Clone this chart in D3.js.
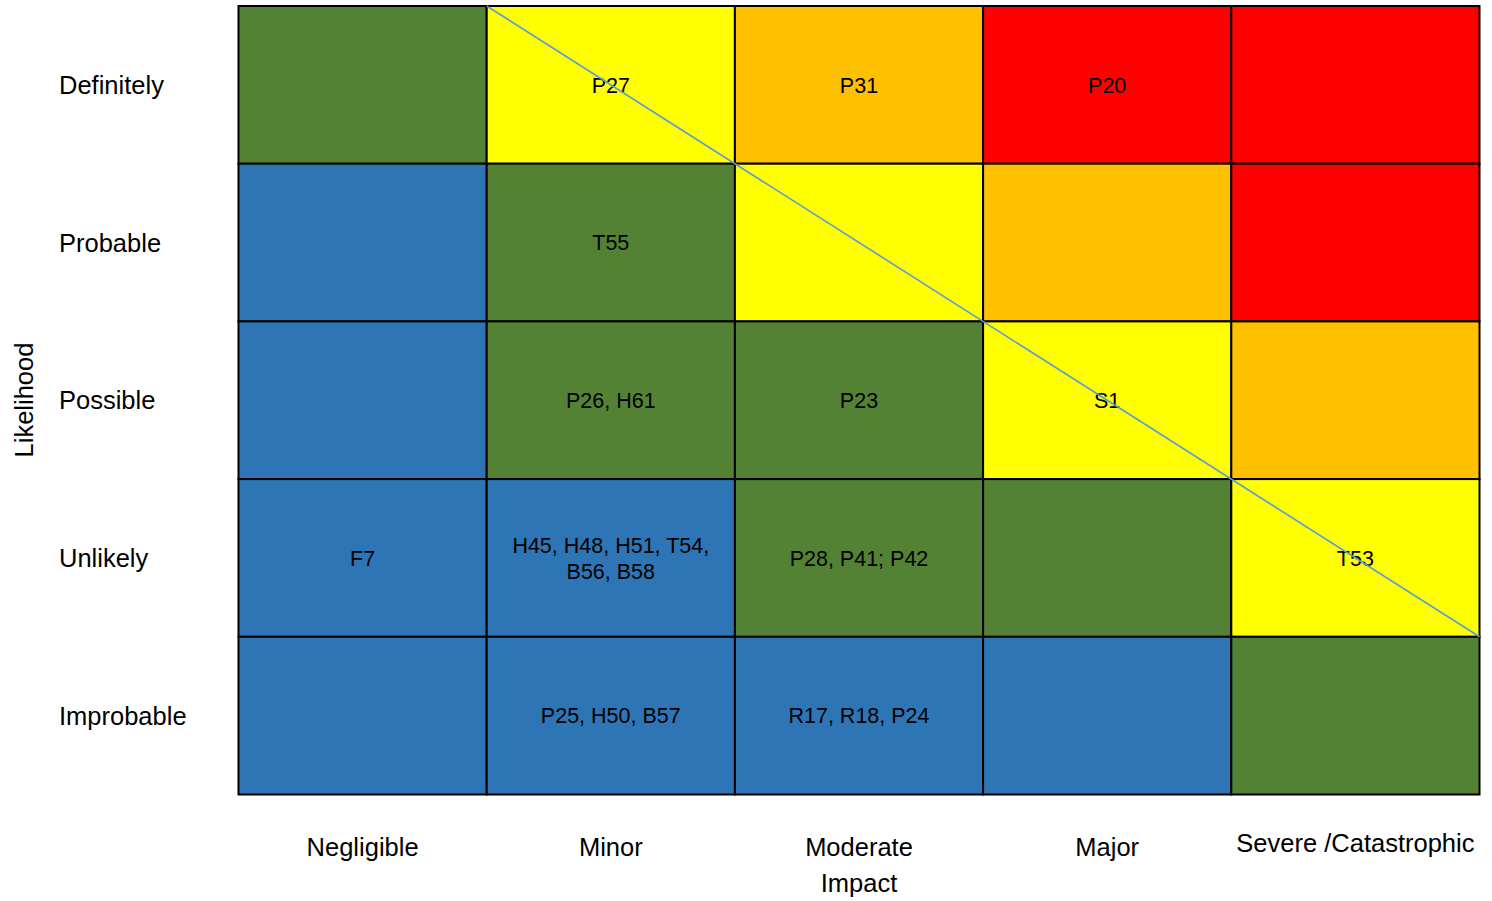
<!DOCTYPE html>
<html>
<head>
<meta charset="utf-8">
<script src="https://cdn.jsdelivr.net/npm/d3@7"></script>
<style>
  html, body { margin: 0; padding: 0; background: #fff; }
  svg { display: block; font-family: "Liberation Sans", Arial, sans-serif; }
</style>
</head>
<body>
<svg id="chart" width="1492" height="901"></svg>
<script>
// Impact categories (columns) and likelihood categories (rows, top to bottom)
const impacts = ["Negligible", "Minor", "Moderate", "Major", "Severe /Catastrophic"];
const likelihoods = ["Definitely", "Probable", "Possible", "Unlikely", "Improbable"];

// Risk level per cell: 1 = low ... 5 = extreme (rows follow likelihoods)
const riskDefinitely = [2, 3, 4, 5, 5];
const riskProbable   = [1, 2, 3, 4, 5];
const riskPossible   = [1, 2, 2, 3, 4];
const riskUnlikely   = [1, 1, 2, 2, 3];
const riskImprobable = [1, 1, 1, 1, 2];

// Hazard references placed in each cell (lines separated by "|")
const itemsDefinitely = ["", "P27", "P31", "P20", ""];
const itemsProbable   = ["", "T55", "", "", ""];
const itemsPossible   = ["", "P26, H61", "P23", "S1", ""];
const itemsUnlikely   = ["F7", "H45, H48, H51, T54,|B56, B58", "P28, P41; P42", "", "T53"];
const itemsImprobable = ["", "P25, H50, B57", "R17, R18, P24", "", ""];

const riskRows = [riskDefinitely, riskProbable, riskPossible, riskUnlikely, riskImprobable];
const itemRows = [itemsDefinitely, itemsProbable, itemsPossible, itemsUnlikely, itemsImprobable];

const levelColor = d3.scaleOrdinal()
  .domain([1, 2, 3, 4, 5])
  .range(["#2E75B6", "#548235", "#FFFF00", "#FFC000", "#FF0000"]);

const svg = d3.select("#chart");

const x = d3.scaleBand().domain(impacts).range([238.5, 1479.5]);
const y = d3.scaleBand().domain(likelihoods).range([6, 794.5]);

const cells = [];
likelihoods.forEach((lk, r) => {
  impacts.forEach((im, c) => {
    cells.push({ lk, im, level: riskRows[r][c], items: itemRows[r][c] });
  });
});

// Coloured cells with black grid borders
svg.append("g").selectAll("rect")
  .data(cells)
  .join("rect")
  .attr("x", d => x(d.im))
  .attr("y", d => y(d.lk))
  .attr("width", x.bandwidth())
  .attr("height", y.bandwidth())
  .attr("fill", d => levelColor(d.level))
  .attr("stroke", "#000")
  .attr("stroke-width", 2);

// Hazard references inside the cells
const cellFont = 21.5;
const lineGap = 26;
const cellText = svg.append("g")
  .attr("font-size", cellFont)
  .attr("fill", "#000")
  .attr("text-anchor", "middle");

cells.filter(d => d.items).forEach(d => {
  const lines = d.items.split("|");
  const cx = x(d.im) + x.bandwidth() / 2;
  const cy = y(d.lk) + y.bandwidth() / 2;
  const t = cellText.append("text");
  lines.forEach((ln, i) => {
    t.append("tspan")
      .attr("x", cx)
      .attr("y", cy + 0.358 * cellFont + (i - (lines.length - 1) / 2) * lineGap)
      .text(ln);
  });
});

// Diagonal boundary line from the top of "Minor" to the bottom-right of "Unlikely"
svg.append("line")
  .attr("x1", x("Minor"))
  .attr("y1", y.range()[0])
  .attr("x2", x.range()[1])
  .attr("y2", y("Unlikely") + y.bandwidth())
  .attr("stroke", "#5B9BD5")
  .attr("stroke-width", 1.6);

// Row labels
const labelFont = 25.5;
svg.append("g")
  .attr("font-size", labelFont)
  .selectAll("text")
  .data(likelihoods)
  .join("text")
  .attr("x", 59)
  .attr("y", d => y(d) + y.bandwidth() / 2 + 0.358 * labelFont)
  .attr("fill", "#000")
  .text(d => d);

// Column labels
svg.append("g")
  .attr("font-size", labelFont)
  .attr("text-anchor", "middle")
  .selectAll("text")
  .data(impacts)
  .join("text")
  .attr("x", d => x(d) + x.bandwidth() / 2)
  .attr("y", d => d === "Severe /Catastrophic" ? 852 : 856)
  .attr("fill", "#000")
  .text(d => d);

// Axis titles
svg.append("text")
  .attr("font-size", labelFont)
  .attr("text-anchor", "middle")
  .attr("x", x("Moderate") + x.bandwidth() / 2)
  .attr("y", 892)
  .text("Impact");

svg.append("text")
  .attr("font-size", labelFont)
  .attr("text-anchor", "middle")
  .attr("transform", "translate(32.5,400) rotate(-90)")
  .text("Likelihood");
</script>
</body>
</html>
